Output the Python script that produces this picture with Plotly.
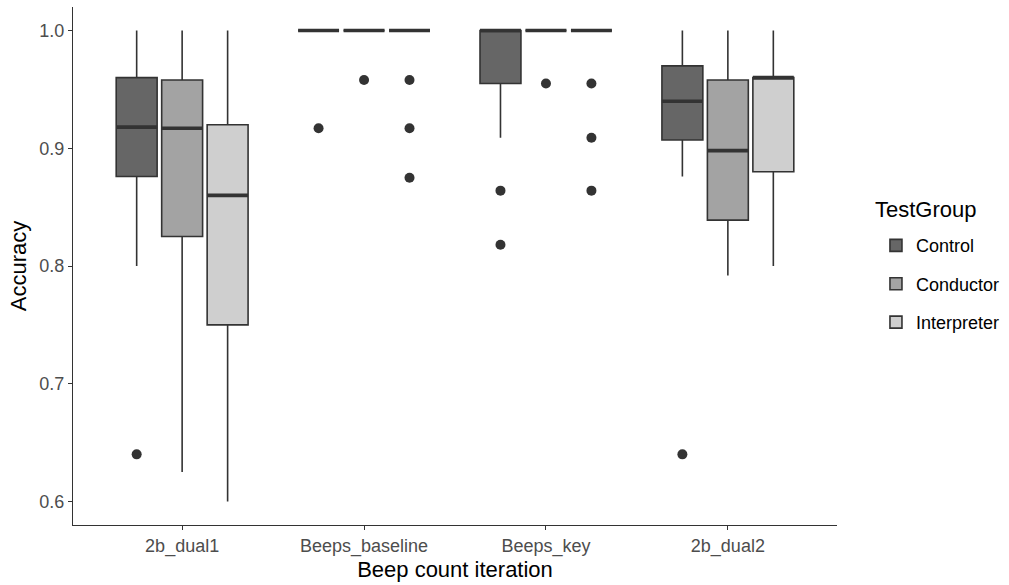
import plotly.graph_objects as go

# Categories along the x axis and the three test groups
categories = ["2b_dual1", "Beeps_baseline", "Beeps_key", "2b_dual2"]
groups = ["Control", "Conductor", "Interpreter"]

# Five-number summaries per group, one value per category
upper_fence = {
    "Control":     [1.000, 1.000, 1.000, 1.000],
    "Conductor":   [1.000, 1.000, 1.000, 1.000],
    "Interpreter": [1.000, 1.000, 1.000, 1.000],
}
q3_vals = {
    "Control":     [0.960, 1.000, 1.000, 0.970],
    "Conductor":   [0.958, 1.000, 1.000, 0.958],
    "Interpreter": [0.920, 1.000, 1.000, 0.960],
}
median_vals = {
    "Control":     [0.918, 1.000, 1.000, 0.940],
    "Conductor":   [0.917, 1.000, 1.000, 0.898],
    "Interpreter": [0.860, 1.000, 1.000, 0.960],
}
q1_vals = {
    "Control":     [0.876, 1.000, 0.955, 0.907],
    "Conductor":   [0.825, 1.000, 1.000, 0.839],
    "Interpreter": [0.750, 1.000, 1.000, 0.880],
}
lower_fence = {
    "Control":     [0.800, 1.000, 0.909, 0.876],
    "Conductor":   [0.625, 1.000, 1.000, 0.792],
    "Interpreter": [0.600, 1.000, 1.000, 0.800],
}

# Outlying observations: (category index, value)
outliers = {
    "Control":     [(0, 0.640), (1, 0.917), (2, 0.864), (2, 0.818), (3, 0.640)],
    "Conductor":   [(1, 0.958), (2, 0.955)],
    "Interpreter": [(1, 0.958), (1, 0.917), (1, 0.875),
                    (2, 0.955), (2, 0.909), (2, 0.864)],
}

fills = {"Control": "#666666", "Conductor": "#A3A3A3", "Interpreter": "#CFCFCF"}
edge = "#333333"
dodge = {"Control": -0.25, "Conductor": 0.0, "Interpreter": 0.25}
box_w = 0.225

fig = go.Figure()

for g in groups:
    xs = [i + 1 + dodge[g] for i in range(len(categories))]
    fig.add_trace(go.Box(
        name=g,
        x=xs,
        q1=q1_vals[g], median=median_vals[g], q3=q3_vals[g],
        lowerfence=lower_fence[g], upperfence=upper_fence[g],
        width=box_w,
        whiskerwidth=0,
        fillcolor=fills[g],
        line=dict(color=edge, width=1.6),
        boxpoints=False,
        legendgroup=g,
        hoverinfo="skip",
    ))

# Thicker median bars drawn over each box
for g in groups:
    mx, my = [], []
    for i, m in enumerate(median_vals[g]):
        c = i + 1 + dodge[g]
        mx += [c - box_w / 2, c + box_w / 2, None]
        my += [m, m, None]
    fig.add_trace(go.Scatter(
        x=mx, y=my, mode="lines",
        line=dict(color=edge, width=3.6),
        showlegend=False, hoverinfo="skip",
    ))

# Outlier points
for g in groups:
    fig.add_trace(go.Scatter(
        x=[ci + 1 + dodge[g] for ci, _ in outliers[g]],
        y=[v for _, v in outliers[g]],
        mode="markers",
        marker=dict(color=edge, size=10),
        showlegend=False, hoverinfo="skip",
    ))

# Legend heading, placed as its own text above the entries
fig.add_annotation(
    text="TestGroup", showarrow=False,
    xref="paper", yref="paper", x=1.047, y=0.61,
    xanchor="left", yanchor="middle",
    font=dict(size=22, color="#000000"),
)

fig.update_layout(
    width=1009, height=585,
    margin=dict(l=73, r=172, t=7, b=60, autoexpand=False),
    plot_bgcolor="white", paper_bgcolor="white",
    boxmode="overlay",
    font=dict(family="Liberation Sans, Arial, sans-serif", color="#000000"),
    legend=dict(
        font=dict(size=18, color="#000000"),
        x=1.051, xanchor="left", y=0.465, yanchor="middle",
        traceorder="grouped", tracegroupgap=12,
        bgcolor="rgba(0,0,0,0)",
    ),
    xaxis=dict(
        range=[0.4, 4.6],
        tickmode="array", tickvals=[1, 2, 3, 4], ticktext=categories,
        showline=True, linecolor=edge, linewidth=1.4,
        ticks="outside", ticklen=4, tickcolor=edge, tickwidth=1.2,
        tickfont=dict(size=18, color="#4D4D4D"),
        showgrid=False, zeroline=False, automargin=False,
        title=dict(text="Beep count iteration", font=dict(size=22), standoff=0),
    ),
    yaxis=dict(
        range=[0.58, 1.02],
        tickvals=[0.6, 0.7, 0.8, 0.9, 1.0], tickformat=".1f",
        showline=True, linecolor=edge, linewidth=1.4,
        ticks="outside", ticklen=4, tickcolor=edge, tickwidth=1.2,
        tickfont=dict(size=18, color="#4D4D4D"),
        showgrid=False, zeroline=False, automargin=False,
        title=dict(text="Accuracy", font=dict(size=22), standoff=6),
    ),
)

fig.write_html("out.html")
